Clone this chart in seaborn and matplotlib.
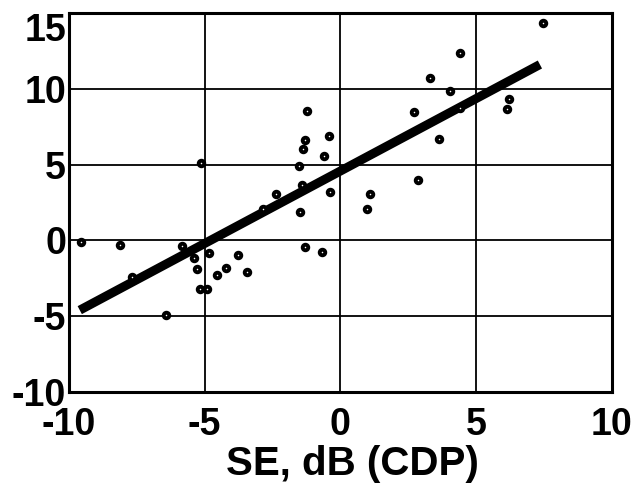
import matplotlib
matplotlib.use("Agg")
import matplotlib.pyplot as plt
import seaborn as sns
import pandas as pd

# Measured points: SE (CDP) vs. comparison measure, dB
se_cdp = [-9.55, -8.10, -7.67, -6.41, -5.83, -5.38, -5.28, -5.18, -5.13, -4.91,
          -4.83, -4.53, -4.21, -3.77, -3.45, -2.86, -2.36, -1.54, -1.47, -1.40,
          -1.37, -1.31, -1.29, -1.23, -0.67, -0.59, -0.43, -0.39, 0.98, 1.09,
          2.70, 2.85, 3.31, 3.62, 4.04, 4.42, 4.40, 6.15, 6.20, 7.45]
se_other = [-0.09, -0.28, -2.39, -4.89, -0.35, -1.18, -1.89, -3.22, 5.09, -3.22,
            -0.81, -2.30, -1.84, -0.94, -2.11, 2.10, 3.08, 4.91, 1.86, 3.64,
            6.03, -0.41, 6.60, 8.53, -0.79, 5.55, 6.86, 3.16, 2.04, 3.05,
            8.44, 3.97, 10.70, 6.71, 9.87, 12.39, 8.70, 8.68, 9.30, 14.36]

# Regression line end points
fit_x = [-9.6, 7.35]
fit_y = [-4.6, 11.6]

x_ticks = [-10, -5, 0, 5, 10]
y_ticks = [-10, -5, 0, 5, 10, 15]

sns.set_style("white")
plt.rcParams["font.family"] = ["Liberation Sans", "DejaVu Sans"]
plt.rcParams.update({"text.color": "black", "axes.labelcolor": "black",
                     "xtick.color": "black", "ytick.color": "black"})

fig = plt.figure(figsize=(6.38, 4.91), dpi=100)
ax = fig.add_axes([0.108, 0.2016, 0.851, 0.772])

pts = pd.DataFrame({"x": se_cdp, "y": se_other})
fit = pd.DataFrame({"x": fit_x, "y": fit_y})

sns.lineplot(data=fit, x="x", y="y", ax=ax, color="black", linewidth=6.5,
             solid_capstyle="butt", zorder=3)
sns.scatterplot(data=pts, x="x", y="y", ax=ax, marker="o", s=16,
                facecolor="white", edgecolor="black", linewidth=2.8, zorder=4)

ax.set_xlim(-10, 10)
ax.set_ylim(-10, 15)
ax.set_xticks(x_ticks)
ax.set_yticks(y_ticks)
ax.set_xticklabels([str(v) for v in x_ticks])
ax.set_yticklabels([str(v) for v in y_ticks])
ax.grid(True, color="black", linewidth=1.3)
ax.set_axisbelow(True)
for s in ax.spines.values():
    s.set_color("black")
    s.set_linewidth(2.2)
    s.set_visible(True)

ax.tick_params(axis="both", length=0, labelsize=27, labelcolor="black")
ax.tick_params(axis="y", pad=2)
ax.tick_params(axis="x", pad=11)
for lab in ax.get_xticklabels() + ax.get_yticklabels():
    lab.set_fontweight("bold")
# the topmost y label sits just inside the frame
ax.get_yticklabels()[-1].set_verticalalignment("top")

ax.set_xlabel("SE, dB (CDP)", fontsize=29, fontweight="bold", color="black")
ax.xaxis.set_label_coords(0.522, -0.14, transform=ax.transAxes)
ax.xaxis.label.set_verticalalignment("top")
ax.set_ylabel("")

fig.savefig("out.png", dpi=100)
